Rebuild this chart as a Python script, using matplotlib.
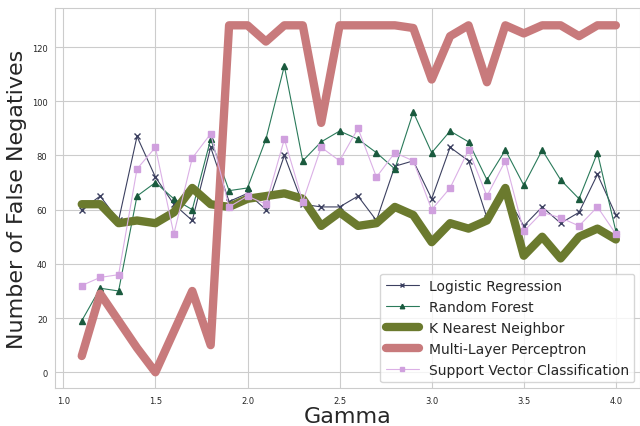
import numpy as np
import matplotlib
matplotlib.use('Agg')
import matplotlib.pyplot as plt
import seaborn as sns

gamma = np.round(np.arange(1.1, 4.01, 0.1), 1)

logistic = [60, 65, 56, 87, 72, 62, 56, 83, 63, 66, 60, 80, 62, 61, 61, 65, 56, 76, 78, 64,
            83, 78, 57, 66, 54, 61, 55, 59, 73, 58]
forest = [19, 31, 30, 65, 70, 64, 60, 86, 67, 68, 86, 113, 78, 85, 89, 86, 81, 75, 96, 81,
          89, 85, 71, 82, 69, 82, 71, 64, 81, 52]
knn = [62, 62, 55, 56, 55, 59, 68, 62, 61, 64, 65, 66, 64, 54, 59, 54, 55, 61, 58, 48,
       55, 53, 56, 68, 43, 50, 42, 50, 53, 49]
mlp = [6, 29, 19, 9, 0, 15, 30, 10, 128, 128, 122, 128, 128, 92, 128, 128, 128, 128, 127, 108,
       124, 128, 107, 128, 125, 128, 128, 124, 128, 128]
svc = [32, 35, 36, 75, 83, 51, 79, 88, 61, 65, 62, 86, 63, 83, 78, 90, 72, 81, 78, 60,
       68, 82, 65, 78, 52, 59, 57, 54, 61, 51]

sns.set_style('whitegrid')

fig, ax = plt.subplots(figsize=(6.4, 4.27), dpi=100)
fig.subplots_adjust(left=0.086, right=1.0, top=0.979, bottom=0.089)

ax.plot(gamma, logistic, color='#3c4060', marker='x', markersize=4, lw=0.8, label='Logistic Regression')
ax.plot(gamma, forest, color='#2a7a5a', marker='^', markersize=4, lw=0.8, markerfacecolor='#1a5a3e',
        markeredgecolor='#1a5a3e', label='Random Forest')
ax.plot(gamma, knn, color='#6b7a2e', lw=6, label='K Nearest Neighbor')
ax.plot(gamma, mlp, color='#c87a7c', lw=6, label='Multi-Layer Perceptron')
ax.plot(gamma, svc, color='#dbb0e6', marker='s', markersize=4, lw=0.8, markerfacecolor='#d0a0de',
        markeredgecolor='#d0a0de', label='Support Vector Classification')

ax.set_xlim(0.955, 4.131)
ax.set_ylim(-5.8, 134.4)
ax.set_xticks([1.0, 1.5, 2.0, 2.5, 3.0, 3.5, 4.0])
ax.set_yticks(range(0, 121, 20))
ax.tick_params(labelsize=6, pad=2)
ax.set_xlabel('Gamma', fontsize=16, labelpad=1)
ax.set_ylabel('Number of False Negatives', fontsize=16)
ax.yaxis.set_label_coords(-0.048, 0.5)
ax.legend(loc='lower right', fontsize=10, handlelength=2.4, handletextpad=0.7, markerscale=0.8,
          borderaxespad=0.4, labelspacing=0.5)

fig.savefig('out.png', dpi=100)
